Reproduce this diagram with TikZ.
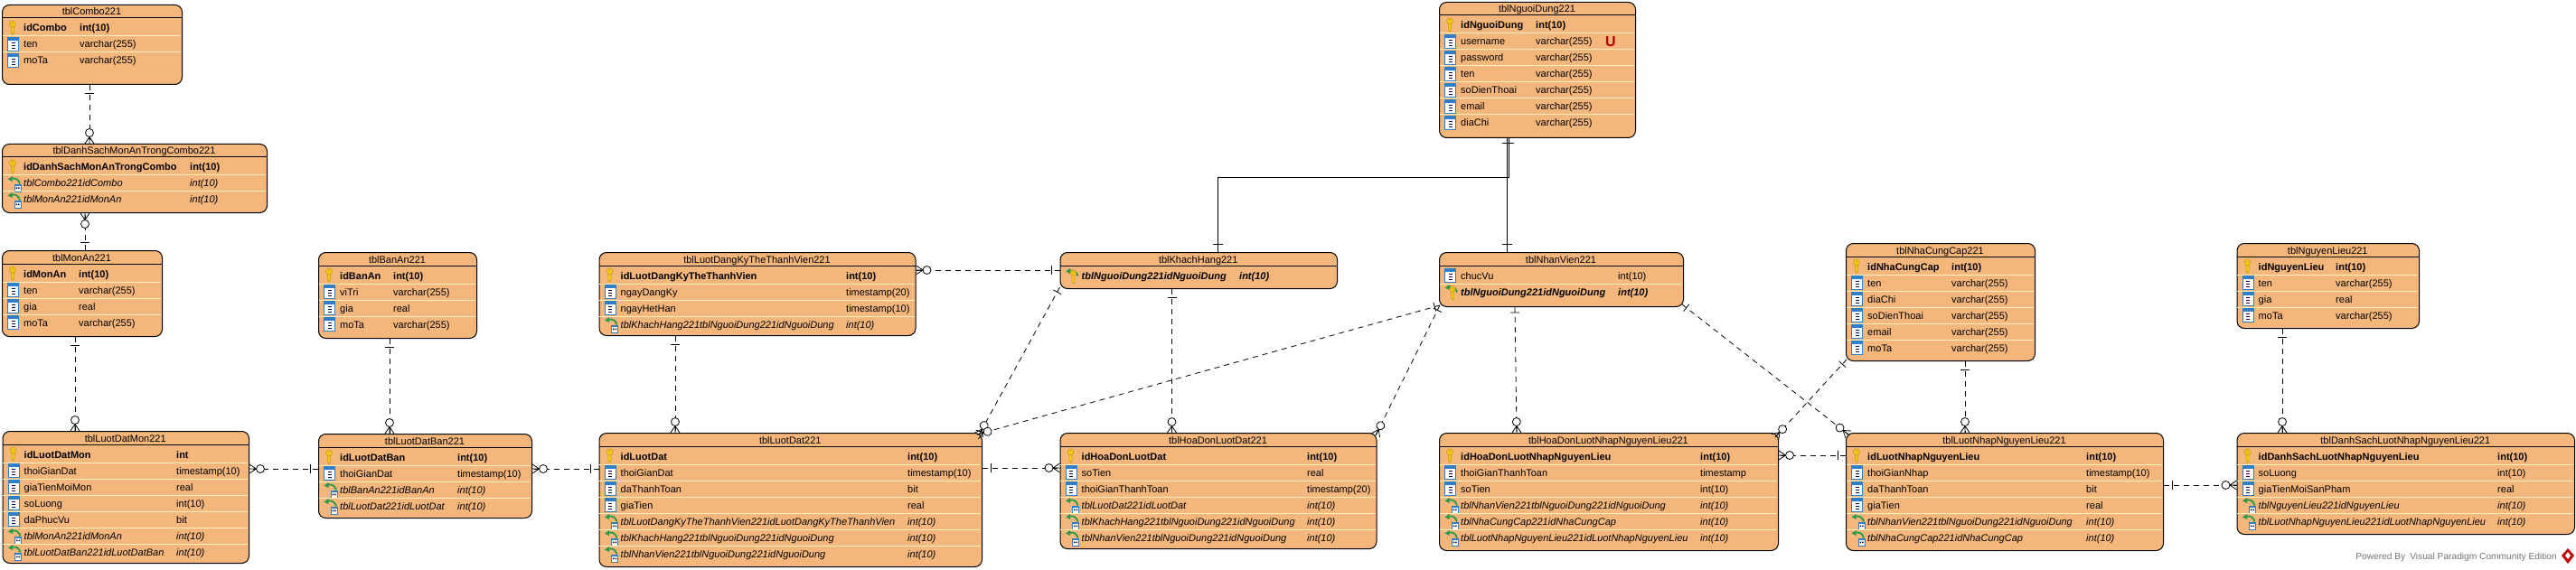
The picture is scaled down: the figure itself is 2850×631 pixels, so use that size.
\documentclass[tikz,border=0pt]{standalone}
\usepackage{fontspec}
\setmainfont{Liberation Sans}
\usepackage{xcolor}
\usetikzlibrary{decorations.markings}

\definecolor{tblfill}{HTML}{F4B67B}
\definecolor{tblsep}{HTML}{FFF0BE}
\definecolor{keyfill}{HTML}{F6C81E}
\definecolor{keyedge}{HTML}{C89A10}
\definecolor{colblue}{HTML}{2F7FC8}
\definecolor{fkgreen}{HTML}{2A9A4A}

\tikzset{
    tblbox/.style={draw=black, fill=tblfill, line width=1pt, rounded corners=8pt, inner sep=0pt, anchor=north west},
    tbltitle/.style={inner sep=0pt, anchor=base, font=\fontsize{11}{13}\selectfont},
    rowtext/.style={inner sep=0pt, anchor=base west, font=\fontsize{11}{13}\selectfont},
    % one end: a bar; many end: circle and crow's foot
    onemany/.style={dashed, dash pattern=on 6pt off 5pt, line width=0.8pt, postaction={decorate}, decoration={markings,
        mark=at position #1 with {\draw[solid, line width=0.8pt] (0pt,-5pt) -- (0pt,5pt);},
        mark=at position -12pt with {
            \draw[solid, line width=0.8pt] (4.5pt,0pt) -- (12pt,5pt) (4.5pt,0pt) -- (12pt,0pt) (4.5pt,0pt) -- (12pt,-5pt);
            \draw[solid, line width=0.8pt, fill=white] (0pt,0pt) circle (4.5pt);}}},
    onemany/.default=9pt,
    oneone/.style={line width=1pt, postaction={decorate}, decoration={markings,
        mark=at position 6pt with {\draw[solid, line width=1pt] (0pt,-5.5pt) -- (0pt,5.5pt);},
        mark=at position -9pt with {\draw[solid, line width=1pt] (0pt,-5.5pt) -- (0pt,5.5pt);}}}
}

% Row icons, drawn around the start of the row's baseline
\newcommand{\rowiconk}{
    \draw[draw=keyedge, fill=keyfill, line width=0.6pt] (10.4,-6) -- (10.4,1) -- (12,3.5) -- (13.6,1) -- (13.6,-6) -- cycle;
    \draw[draw=keyedge, fill=keyfill, line width=0.6pt] (12,-8.5) circle (3.5);
    \fill[keyedge] (12,-9.7) circle (0.8);
}
\newcommand{\rowiconc}{
    \draw[draw=colblue, fill=white, line width=0.8pt] (6.5,-12) rectangle (18.5,3);
    \fill[colblue] (6.5,-12) rectangle (18.5,-8);
    \foreach \dashy in {-6,-3,0}
        \fill[black!70!blue] (10.5,\dashy) rectangle (14.5,\dashy+1.4);
}
\newcommand{\rowfkarrow}{
    \draw[fkgreen, line width=1.8pt] (10,-9) .. controls (15,-11) and (19,-8) .. (20,-3.5);
    \fill[fkgreen] (6.5,-8.5) -- (11.5,-12) -- (11.5,-6) -- cycle;
}
\newcommand{\rowiconf}{
    \draw[draw=colblue, fill=white, line width=0.7pt] (14,-3) rectangle (21,5);
    \fill[colblue] (14,-3) rectangle (21,-1);
    \fill[black!70!blue] (15.5,0.5) rectangle (17,2) (18,0.5) rectangle (19.5,2);
    \rowfkarrow
}
\newcommand{\rowiconp}{
    \rowfkarrow
    \draw[draw=keyedge, fill=keyfill, line width=0.6pt] (13.6,-5) -- (13.6,3) -- (15,5) -- (16.4,3) -- (16.4,-5) -- cycle;
    \draw[draw=keyedge, fill=keyfill, line width=0.6pt] (15,-7) circle (3.2);
    \fill[keyedge] (15,-8) circle (0.8);
}
\newcommand{\rowfontk}{\bfseries}
\newcommand{\rowfontc}{}
\newcommand{\rowfontf}{\itshape}
\newcommand{\rowfontp}{\bfseries\itshape}

% name, left, top, width, height, second column offset, title, rows
\newcommand{\ertable}[8]{
    \node[tblbox, minimum width=#4pt, minimum height=#5pt] (#1) at (#2,#3) {};
    \node[tbltitle] (#1title) at (#2+#4/2,#3+12) {#7};
    \draw[black, line width=1pt] (#2,#3+15) -- (#2+#4,#3+15);
    \foreach \kind/\cola/\colb [count=\i] in {#8} {
        \pgfmathsetmacro{\rowy}{#3+30+18*(\i-1)}
        \ifnum\i>1
            \draw[tblsep, line width=1pt] (#2+0.6,\rowy-13) -- (#2+#4-0.6,\rowy-13);
        \fi
        \begin{scope}[shift={(#2,\rowy)}]
            \csname rowicon\kind\endcsname
        \end{scope}
        \node[rowtext] (#1name\i) at (#2+24,\rowy) {\csname rowfont\kind\endcsname\cola};
        \node[rowtext] (#1type\i) at (#2+#6,\rowy) {\csname rowfont\kind\endcsname\colb};
    }
}

\begin{document}
\begin{tikzpicture}[x=1pt, y=-1pt]
    \useasboundingbox (0,0) rectangle (2850,631);

    % Tables
    \ertable{tblCombo}{2}{5}{199}{88}{86}{tblCombo221}{k/idCombo/int(10), c/ten/varchar(255), c/moTa/varchar(255)}
    \ertable{tblDanhSachMonAn}{2}{159}{293}{76}{208}{tblDanhSachMonAnTrongCombo221}{k/idDanhSachMonAnTrongCombo/int(10), f/tblCombo221idCombo/int(10), f/tblMonAn221idMonAn/int(10)}
    \ertable{tblMonAn}{2}{277}{177}{95}{85}{tblMonAn221}{k/idMonAn/int(10), c/ten/varchar(255), c/gia/real, c/moTa/varchar(255)}
    \ertable{tblBanAn}{352}{279}{175}{95}{83}{tblBanAn221}{k/idBanAn/int(10), c/viTri/varchar(255), c/gia/real, c/moTa/varchar(255)}
    \ertable{tblLuotDatMon}{2.5}{477}{272.5}{146}{192.5}{tblLuotDatMon221}{k/idLuotDatMon/int, c/thoiGianDat/timestamp(10), c/giaTienMoiMon/real, c/soLuong/int(10), c/daPhucVu/bit, f/tblMonAn221idMonAn/int(10), f/tblLuotDatBan221idLuotDatBan/int(10)}
    \ertable{tblLuotDatBan}{352}{480}{236}{93}{154}{tblLuotDatBan221}{k/idLuotDatBan/int(10), c/thoiGianDat/timestamp(10), f/tblBanAn221idBanAn/int(10), f/tblLuotDat221idLuotDat/int(10)}
    \ertable{tblLuotDangKy}{662.5}{279}{350}{92}{273.5}{tblLuotDangKyTheThanhVien221}{k/idLuotDangKyTheThanhVien/int(10), c/ngayDangKy/timestamp(20), c/ngayHetHan/timestamp(10), f/tblKhachHang221tblNguoiDung221idNguoiDung/int(10)}
    \ertable{tblLuotDat}{662.5}{479}{423.5}{148}{341.5}{tblLuotDat221}{k/idLuotDat/int(10), c/thoiGianDat/timestamp(10), c/daThanhToan/bit, c/giaTien/real, f/tblLuotDangKyTheThanhVien221idLuotDangKyTheThanhVien/int(10), f/tblKhachHang221tblNguoiDung221idNguoiDung/int(10), f/tblNhanVien221tblNguoiDung221idNguoiDung/int(10)}
    \ertable{tblKhachHang}{1172.5}{279}{306.5}{40}{198.5}{tblKhachHang221}{p/tblNguoiDung221idNguoiDung/int(10)}
    \ertable{tblHoaDonLuotDat}{1172.5}{479}{350}{128}{273.5}{tblHoaDonLuotDat221}{k/idHoaDonLuotDat/int(10), c/soTien/real, c/thoiGianThanhToan/timestamp(20), f/tblLuotDat221idLuotDat/int(10), f/tblKhachHang221tblNguoiDung221idNguoiDung/int(10), f/tblNhanVien221tblNguoiDung221idNguoiDung/int(10)}
    \ertable{tblNguoiDung}{1592}{2}{217}{150}{107}{tblNguoiDung221}{k/idNguoiDung/int(10), c/username/varchar(255), c/password/varchar(255), c/ten/varchar(255), c/soDienThoai/varchar(255), c/email/varchar(255), c/diaChi/varchar(255)}
    \node[inner sep=0pt, anchor=base, text=red!70!black, font=\fontsize{16}{16}\selectfont\bfseries] (uniqueMark) at (1782,52) {U};
    \ertable{tblNhanVien}{1592}{279}{270}{60}{198}{tblNhanVien221}{c/chucVu/int(10), p/tblNguoiDung221idNguoiDung/int(10)}
    \ertable{tblHoaDonNhap}{1592}{479}{375}{130}{289}{tblHoaDonLuotNhapNguyenLieu221}{k/idHoaDonLuotNhapNguyenLieu/int(10), c/thoiGianThanhToan/timestamp, c/soTien/int(10), f/tblNhanVien221tblNguoiDung221idNguoiDung/int(10), f/tblNhaCungCap221idNhaCungCap/int(10), f/tblLuotNhapNguyenLieu221idLuotNhapNguyenLieu/int(10)}
    \ertable{tblNhaCungCap}{2042}{269}{209}{130}{117}{tblNhaCungCap221}{k/idNhaCungCap/int(10), c/ten/varchar(255), c/diaChi/varchar(255), c/soDienThoai/varchar(255), c/email/varchar(255), c/moTa/varchar(255)}
    \ertable{tblNguyenLieu}{2474.5}{269}{201.5}{94}{109.5}{tblNguyenLieu221}{k/idNguyenLieu/int(10), c/ten/varchar(255), c/gia/real, c/moTa/varchar(255)}
    \ertable{tblLuotNhap}{2042}{479}{351}{130}{266}{tblLuotNhapNguyenLieu221}{k/idLuotNhapNguyenLieu/int(10), c/thoiGianNhap/timestamp(10), c/daThanhToan/bit, c/giaTien/real, f/tblNhanVien221tblNguoiDung221idNguoiDung/int(10), f/tblNhaCungCap221idNhaCungCap/int(10)}
    \ertable{tblDanhSachNhap}{2474.5}{479}{373.5}{112}{288.5}{tblDanhSachLuotNhapNguyenLieu221}{k/idDanhSachLuotNhapNguyenLieu/int(10), c/soLuong/int(10), c/giaTienMoiSanPham/real, f/tblNguyenLieu221idNguyenLieu/int(10), f/tblLuotNhapNguyenLieu221idLuotNhapNguyenLieu/int(10)}

    % Relations, left part
    \draw[onemany] ([xshift=97pt]tblCombo.south west) -- ([xshift=97pt]tblDanhSachMonAn.north west);
    \draw[onemany] ([xshift=92pt]tblMonAn.north west) -- ([xshift=92pt]tblDanhSachMonAn.south west);
    \draw[onemany] ([xshift=81pt]tblMonAn.south west) -- ([xshift=80.5pt]tblLuotDatMon.north west);
    \draw[onemany] ([xshift=79pt]tblBanAn.south west) -- ([xshift=79pt]tblLuotDatBan.north west);
    \draw[onemany] ([yshift=-39pt]tblLuotDatBan.north west) -- ([yshift=-42pt]tblLuotDatMon.north east);
    \draw[onemany] ([yshift=-40pt]tblLuotDat.north west) -- ([yshift=-39pt]tblLuotDatBan.north east);
    \draw[onemany] ([xshift=84.5pt]tblLuotDangKy.south west) -- ([xshift=84.5pt]tblLuotDat.north west);
    \draw[onemany] ([yshift=-39pt]tblLuotDat.north east) -- ([yshift=-39pt]tblHoaDonLuotDat.north west);

    % Relations around tblKhachHang and tblNhanVien
    \draw[onemany] ([yshift=-20pt]tblKhachHang.north west) -- ([yshift=-20pt]tblLuotDangKy.north east);
    \draw[onemany=6pt] ([yshift=2pt]tblKhachHang.south west) -- ([xshift=-4pt,yshift=-2.5pt]tblLuotDat.north east);
    \draw[onemany=6pt] ([xshift=1pt,yshift=2pt]tblNhanVien.south west) -- ([xshift=-6pt,yshift=-2pt]tblLuotDat.north east);
    \draw[onemany] ([xshift=124pt]tblKhachHang.south west) -- ([xshift=124pt]tblHoaDonLuotDat.north west);
    \draw[onemany=6pt] ([xshift=1pt,yshift=2pt]tblNhanVien.south west) -- ([xshift=-1.5pt,yshift=-3pt]tblHoaDonLuotDat.north east);
    \draw[onemany=6pt] ([xshift=84pt]tblNhanVien.south west) -- ([xshift=86pt]tblHoaDonNhap.north west);
    \draw[onemany=6pt] ([xshift=-2pt,yshift=3pt]tblNhanVien.south east) -- ([xshift=3pt,yshift=-2pt]tblLuotNhap.north west);

    % Relations, right part
    \draw[onemany=7pt] ([xshift=1pt,yshift=2pt]tblNhaCungCap.south west) -- ([xshift=-4pt,yshift=-5pt]tblHoaDonNhap.north east);
    \draw[onemany] ([yshift=-25pt]tblLuotNhap.north west) -- ([yshift=-25pt]tblHoaDonNhap.north east);
    \draw[onemany] ([xshift=132pt]tblNhaCungCap.south west) -- ([xshift=132pt]tblLuotNhap.north west);
    \draw[onemany] ([xshift=50.5pt]tblNguyenLieu.south west) -- ([xshift=50.5pt]tblDanhSachNhap.north west);
    \draw[onemany] ([yshift=-58pt]tblLuotNhap.north east) -- ([yshift=-58pt]tblDanhSachNhap.north west);

    % tblNguoiDung down to its two subtypes
    \coordinate (khachBend) at (1347.5,197);
    \draw[oneone] ([xshift=77pt]tblNguoiDung.south west) |- (khachBend) -- ([xshift=175pt]tblKhachHang.north west);
    \draw[oneone] ([xshift=75pt]tblNguoiDung.south west) -- ([xshift=75pt]tblNhanVien.north west);

    % Footer
    \node[rowtext, anchor=base east, text=black!55, font=\fontsize{10.2}{13}\selectfont] (poweredBy) at (2829,619) {Powered By\hspace{5pt}Visual Paradigm Community Edition};
    \fill[red!75!black] (2841,607) -- (2848,615) -- (2841,624) -- (2834,615) -- cycle;
    \fill[white] (2841,611) -- (2844,615) -- (2841,619) -- (2838,615) -- cycle;
\end{tikzpicture}
\end{document}
